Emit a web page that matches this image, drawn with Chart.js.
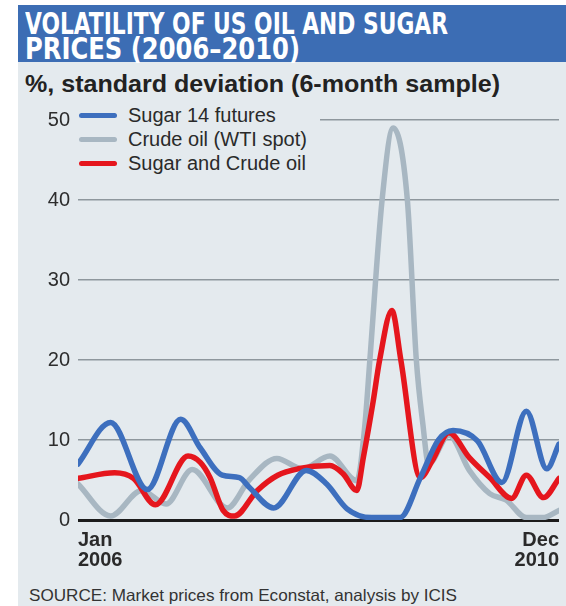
<!DOCTYPE html>
<html>
<head>
<meta charset="utf-8">
<script src="https://cdn.jsdelivr.net/npm/chart.js@4.4.1/dist/chart.umd.min.js"></script>
<style>
  html, body { margin: 0; padding: 0; background: #fff; }
  #page { position: relative; width: 566px; height: 606px; overflow: hidden; font-family: "Liberation Sans", Arial, sans-serif; }
  #panel { position: absolute; left: 18px; top: 5px; width: 548px; height: 601px; background: #e4eaee; }
  #band { position: absolute; left: 18px; top: 5px; width: 548px; height: 57px; background: #3c6db4; }
  .t { position: absolute; white-space: nowrap; line-height: 1; transform-origin: 0 0; }
  .title { color: #fff; font-family: "DejaVu Sans Condensed", "DejaVu Sans", sans-serif; font-weight: bold; font-size: 30px; left: 25px; }
  #sub { left: 25px; top: 73px; font-size: 23px; font-weight: bold; color: #222; }
  #source { left: 29px; top: 587px; font-size: 16.5px; color: #333; }
  #chartBox { position: absolute; left: 18px; top: 100px; width: 548px; height: 485px; }
  #legend { position: absolute; left: 76px; top: 102px; width: 244px; height: 76px; background: #e4eaee; }
  .row { position: absolute; left: 3px; height: 24px; display: flex; align-items: center; }
  .swatch { width: 38px; height: 5px; border-radius: 3px; margin-right: 11px; }
  .lab { font-size: 20px; color: #2a2a2a; white-space: nowrap; }
</style>
</head>
<body>
<div id="page">
  <div id="panel"></div>
  <div id="band"></div>
  <div class="t title" id="t1" style="top:8.5px" data-w="423">VOLATILITY OF US OIL AND SUGAR</div>
  <div class="t title" id="t2" style="top:33.5px" data-w="275">PRICES (2006–2010)</div>
  <div class="t" id="sub" data-w="475">%, standard deviation (6-month sample)</div>
  <div id="chartBox"><canvas id="chart" width="548" height="485"></canvas></div>
  <div id="legend"></div>
  <div class="t" id="source" data-w="428">SOURCE: Market prices from Econstat, analysis by ICIS</div>
</div>
<script>
// months since Jan 2006 (0 = Jan 2006, 59 = Dec 2010)
const sugarMonths = [0, 4, 8.5, 12.6, 15, 17.7, 19.8, 21, 24, 28, 30.5, 33, 36, 39.5, 42, 44.2, 46, 49, 52, 55, 57.5, 59];
const sugarValues = [7, 12.2, 3.8, 12.6, 9, 5.6, 5.3, 4.1, 1.5, 6.2, 4.5, 1.4, 0.3, 0.3, 5.3, 10, 11.2, 9.9, 4.7, 13.6, 6.4, 9.5];

const crudeMonths = [0, 4, 7.8, 10.8, 14, 18.3, 21, 24.4, 27.5, 30.9, 34.2, 35.2, 35.8, 37.3, 38.65, 40.4, 41.5, 42.3, 43, 45.5, 48, 50.5, 52.5, 55, 57, 59];
const crudeValues = [4.5, 0.5, 3.7, 2, 6.3, 1.5, 5, 7.7, 6.4, 8, 4.9, 12, 20, 40, 49, 40, 20, 12, 7, 10.6, 6.2, 3.3, 2.5, 0.3, 0.3, 1.2];

const bothMonths = [0, 4.5, 6.8, 9.5, 13.5, 15, 16.2, 17.8, 19.2, 22, 24.5, 27, 30.9, 32.5, 34.2, 35, 36.2, 37, 38.5, 39.6, 42, 43.5, 45.5, 48, 50.5, 53.2, 55, 57.1, 59];
const bothValues = [5.2, 5.9, 5.2, 1.9, 8, 7.2, 5.3, 1.2, 0.5, 3.7, 5.6, 6.4, 6.8, 5.8, 3.7, 7.8, 14.8, 20, 26.2, 20, 5.3, 7.5, 10.9, 7.8, 5.3, 2.7, 5.6, 2.8, 5.2];

const seriesNames = ["Sugar 14 futures", "Crude oil (WTI spot)", "Sugar and Crude oil"];
const seriesColors = ["#3d6fbe", "#a8b7c2", "#e5161d"];
const yTicks = [0, 10, 20, 30, 40, 50];
const xTickMonths = [0, 59];
const xTickLabels = [["Jan", "2006"], ["Dec", "2010"]];

function points(xs, ys) {
  return xs.map((x, i) => ({ x: x, y: ys[i] }));
}

function lineSet(i, xs, ys, order) {
  return {
    label: seriesNames[i],
    data: points(xs, ys),
    borderColor: seriesColors[i],
    borderWidth: 5.5,
    borderCapStyle: "round",
    borderJoinStyle: "round",
    pointRadius: 0,
    cubicInterpolationMode: "monotone",
    fill: false,
    order: order,
  };
}

const chart = new Chart(document.getElementById("chart"), {
  type: "line",
  data: {
    datasets: [
      lineSet(0, sugarMonths, sugarValues, 0),
      lineSet(2, bothMonths, bothValues, 1),
      lineSet(1, crudeMonths, crudeValues, 2),
    ],
  },
  options: {
    responsive: false,
    animation: false,
    layout: { padding: { top: 15, right: 7, left: 0, bottom: 0 } },
    plugins: { legend: { display: false }, tooltip: { enabled: false } },
    scales: {
      x: {
        type: "linear",
        min: 0,
        max: 59,
        afterBuildTicks: (axis) => { axis.ticks = xTickMonths.map((v) => ({ value: v })); },
        afterFit: (axis) => { axis.height = 65; },
        grid: { display: false },
        border: { display: false },
        ticks: {
          align: "inner",
          maxRotation: 0,
          autoSkip: false,
          padding: 2,
          color: "#2a2a2a",
          font: { family: "Liberation Sans", size: 20, weight: "bold", lineHeight: 1 },
          callback: (v) => xTickLabels[xTickMonths.indexOf(v)],
        },
      },
      y: {
        min: 0,
        max: 50,
        afterBuildTicks: (axis) => { axis.ticks = yTicks.map((v) => ({ value: v })); },
        afterFit: (axis) => { axis.width = 60; },
        border: { display: false },
        grid: {
          drawTicks: false,
          color: (ctx) => (ctx.tick.value === 0 ? "#1c1c1c" : "#8e979d"),
          lineWidth: (ctx) => (ctx.tick.value === 0 ? 3 : 1.5),
        },
        ticks: {
          padding: 8,
          color: "#2d2d2d",
          font: { family: "Liberation Sans", size: 20 },
        },
      },
    },
  },
});

// legend drawn over the top of the plot, like the original
const legendEl = document.getElementById("legend");
const legendRows = [0, 1, 2];
legendRows.forEach((i, r) => {
  const row = document.createElement("div");
  row.className = "row";
  row.style.top = (1 + r * 24) + "px";
  row.innerHTML = '<span class="swatch" style="background:' + seriesColors[i] + '"></span><span class="lab">' + seriesNames[i] + "</span>";
  legendEl.appendChild(row);
});

// squeeze/stretch text blocks to the measured widths of the original
document.querySelectorAll("[data-w]").forEach((el) => {
  const w = el.getBoundingClientRect().width;
  const target = Number(el.dataset.w);
  el.style.transform = "scaleX(" + (target / w) + ")";
});
</script>
</body>
</html>
